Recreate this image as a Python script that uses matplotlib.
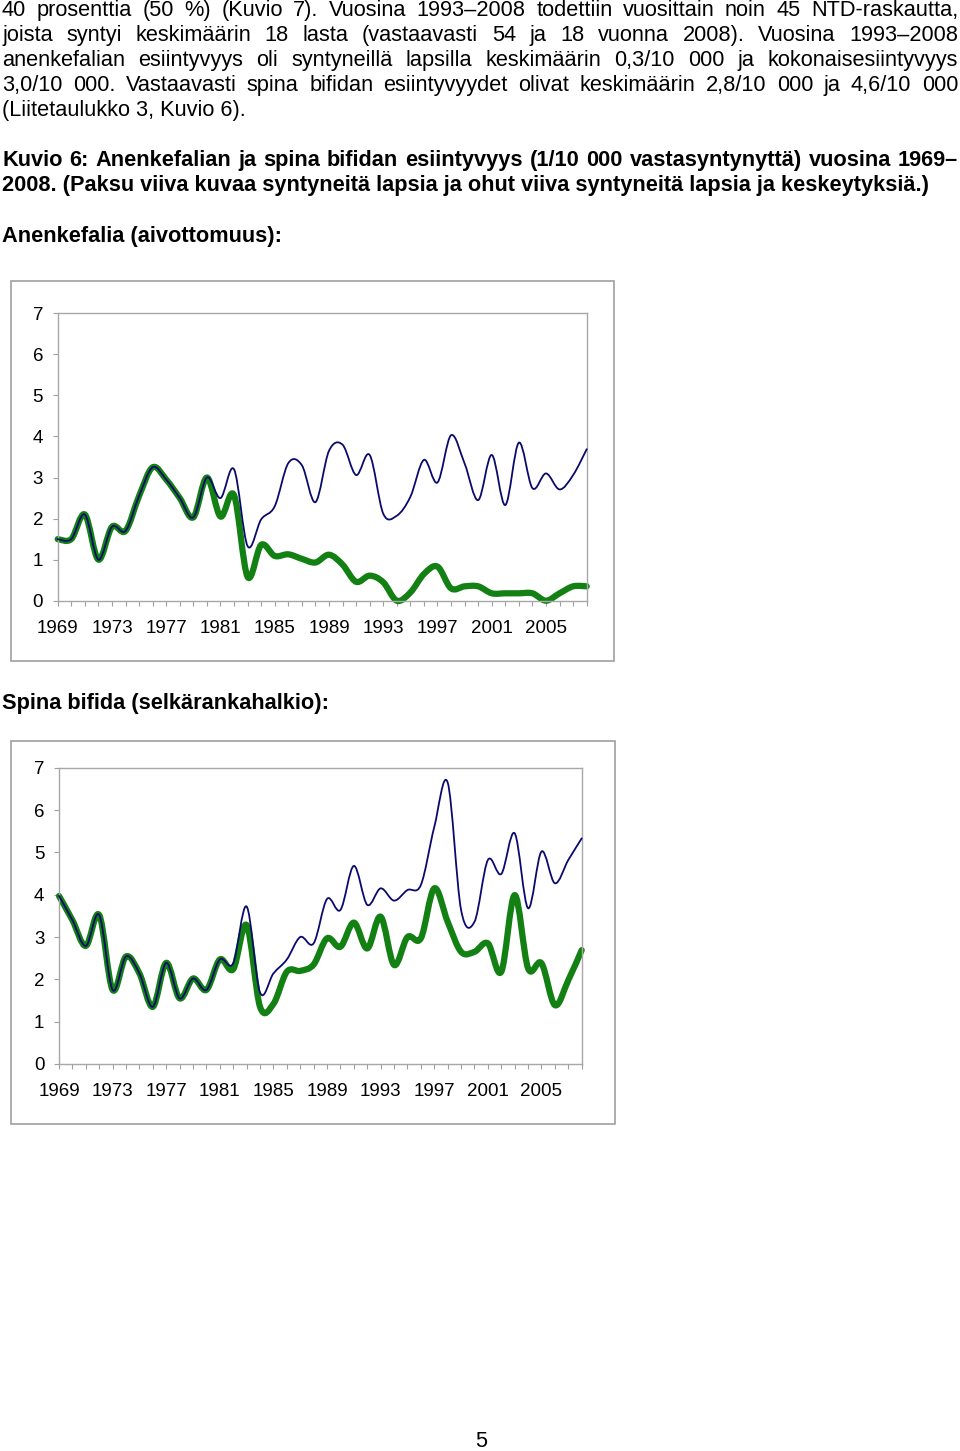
import numpy as np
import matplotlib.pyplot as plt
from matplotlib.path import Path
from matplotlib.patches import PathPatch, Rectangle

plt.rcParams['font.family'] = ['Liberation Sans', 'DejaVu Sans']

W, H = 960, 1451

years = list(range(1969, 2009))

# Anenkefalia, 1/10 000
anen_total = [1.5, 1.5, 2.1, 1.0, 1.8, 1.7, 2.55, 3.25, 2.95, 2.5, 2.03, 3.0,
              2.5, 3.2, 1.33, 1.98, 2.3, 3.35, 3.3, 2.4, 3.65, 3.8, 3.06, 3.55,
              2.12, 2.07, 2.53, 3.43, 2.88, 4.03, 3.34, 2.45, 3.55, 2.33, 3.85,
              2.74, 3.1, 2.71, 3.06, 3.69]
anen_born = [1.5, 1.5, 2.1, 1.0, 1.8, 1.7, 2.55, 3.25, 2.95, 2.5, 2.03, 3.0,
             2.05, 2.57, 0.58, 1.36, 1.09, 1.13, 1.02, 0.93, 1.12, 0.88, 0.46,
             0.61, 0.45, 0.0, 0.2, 0.65, 0.83, 0.3, 0.35, 0.35, 0.18, 0.18,
             0.18, 0.18, 0.0, 0.18, 0.35, 0.35]

# Spina bifida, 1/10 000
spina_total = [3.97, 3.4, 2.79, 3.52, 1.75, 2.54, 2.14, 1.35, 2.39, 1.55, 2.02,
               1.75, 2.47, 2.38, 3.72, 1.69, 2.14, 2.47, 3.0, 2.85, 3.9, 3.64,
               4.68, 3.76, 4.15, 3.86, 4.11, 4.23, 5.6, 6.65, 3.64, 3.36, 4.82,
               4.49, 5.45, 3.68, 5.02, 4.27, 4.82, 5.33]
spina_born = [3.97, 3.4, 2.79, 3.52, 1.75, 2.54, 2.14, 1.35, 2.39, 1.55, 2.02,
              1.75, 2.47, 2.24, 3.28, 1.35, 1.42, 2.18, 2.2, 2.35, 2.97, 2.77,
              3.34, 2.73, 3.48, 2.34, 3.0, 2.97, 4.15, 3.36, 2.65, 2.65, 2.85,
              2.18, 3.99, 2.26, 2.38, 1.39, 1.98, 2.69]

para = [
    "40 prosenttia (50 %) (Kuvio 7). Vuosina 1993–2008 todettiin vuosittain noin 45 NTD-raskautta,",
    "joista syntyi keskimäärin 18 lasta (vastaavasti 54 ja 18 vuonna 2008). Vuosina 1993–2008",
    "anenkefalian esiintyvyys oli syntyneillä lapsilla keskimäärin 0,3/10 000 ja kokonaisesiintyvyys",
    "3,0/10 000. Vastaavasti spina bifidan esiintyvyydet olivat keskimäärin 2,8/10 000 ja 4,6/10 000",
    "(Liitetaulukko 3, Kuvio 6).",
]
caption = [
    "Kuvio 6: Anenkefalian ja spina bifidan esiintyvyys (1/10 000 vastasyntynyttä) vuosina 1969–",
    "2008. (Paksu viiva kuvaa syntyneitä lapsia ja ohut viiva syntyneitä lapsia ja keskeytyksiä.)",
]

fig = plt.figure(figsize=(W / 100, H / 100), dpi=100)
renderer = fig.canvas.get_renderer()
FS = 15.7


def fx(x):
    return x / W


def fy(y):
    return 1 - y / H


def put_line(line, y, justify, **kw):
    if not justify:
        fig.text(fx(2), fy(y), line, va='baseline', size=FS, **kw)
        return
    words = line.split(' ')
    texts = [fig.text(0, fy(y), w, va='baseline', size=FS, **kw) for w in words]
    widths = [t.get_window_extent(renderer).width for t in texts]
    gap = (958 - 2 - sum(widths)) / (len(words) - 1)
    x = 2
    for t, w in zip(texts, widths):
        t.set_x(fx(x))
        x += w + gap


for i, line in enumerate(para):
    put_line(line, 16 + 25 * i, i < len(para) - 1)
put_line(caption[0], 166, True, weight='bold')
put_line(caption[1], 191, False, weight='bold')
fig.text(fx(2), fy(242), "Anenkefalia (aivottomuus):", va='baseline', size=FS, weight='bold')
fig.text(fx(2), fy(709), "Spina bifida (selkärankahalkio):", va='baseline', size=FS, weight='bold')
fig.text(fx(481), fy(1447), "5", ha='center', va='baseline', size=FS)


def smooth_line(ax, x, y, **kw):
    # excel-style smoothed line (bezier through the yearly points)
    x = np.asarray(x, float)
    y = np.asarray(y, float)
    n = len(x)
    verts = [(x[0], y[0])]
    codes = [Path.MOVETO]
    for i in range(n - 1):
        a = max(i - 1, 0)
        d = min(i + 2, n - 1)
        verts.append((x[i] + (x[i + 1] - x[a]) / 6, y[i] + (y[i + 1] - y[a]) / 6))
        verts.append((x[i + 1] - (x[d] - x[i]) / 6, y[i + 1] - (y[d] - y[i]) / 6))
        verts.append((x[i + 1], y[i + 1]))
        codes += [Path.CURVE4] * 3
    ax.add_patch(PathPatch(Path(verts, codes), fill=False, clip_on=False,
                           capstyle='round', joinstyle='round', **kw))


def make_chart(box, area, total, born):
    bx0, by0, bx1, by1 = box
    fig.add_artist(Rectangle((fx(bx0), fy(by1)), (bx1 - bx0) / W, (by1 - by0) / H,
                             transform=fig.transFigure, fill=False,
                             ec='#a0a0a0', lw=1.2))
    l, t, r, b = area
    ax = fig.add_axes([fx(l), fy(b), (r - l) / W, (b - t) / H])
    smooth_line(ax, years, born, ec='#138013', lw=4.5, zorder=2)
    smooth_line(ax, years, total, ec='#0a0a6e', lw=1.3, zorder=3)
    ax.set_xlim(1969, 2008)
    ax.set_ylim(0, 7)
    ax.set_yticks(range(8))
    ax.set_xticks(years)
    ax.set_xticklabels([str(yr) if (yr - 1969) % 4 == 0 else '' for yr in years])
    for s in ax.spines.values():
        s.set_color('#a8a8a8')
        s.set_linewidth(1.0)
    ax.tick_params(axis='both', direction='out', length=3.5, width=0.8,
                   color='#a0a0a0', labelsize=13.5, labelcolor='black')
    ax.tick_params(axis='y', pad=7)
    ax.tick_params(axis='x', pad=10.5)
    return ax


make_chart((11, 280.7, 614, 661), (57.7, 313.3, 586.7, 600.7), anen_total, anen_born)
make_chart((11, 741, 615, 1124), (59, 767.7, 581.7, 1064), spina_total, spina_born)

fig.savefig('out.png', dpi=100)
